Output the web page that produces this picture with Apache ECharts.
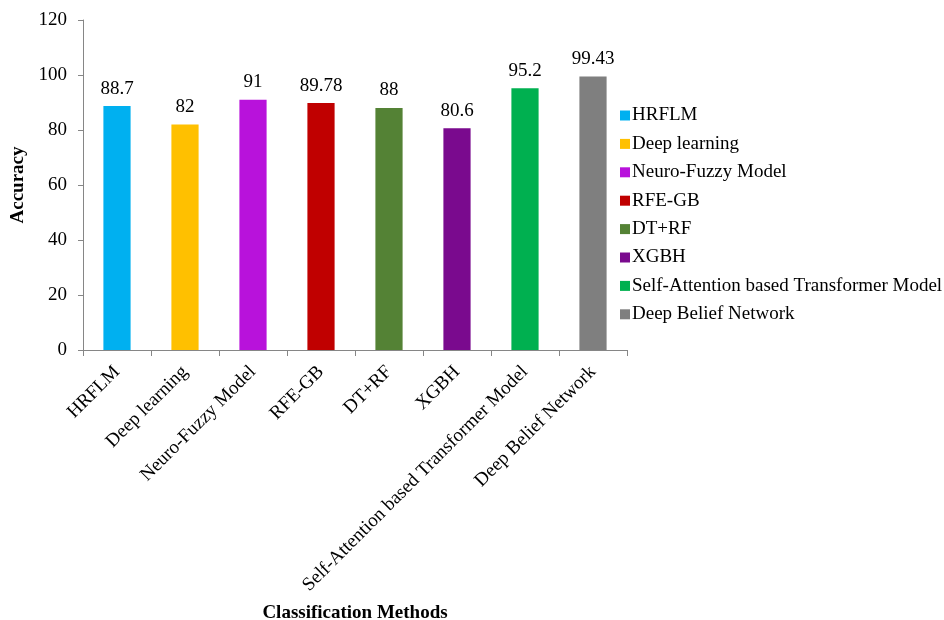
<!DOCTYPE html>
<html>
<head>
<meta charset="utf-8">
<script src="https://cdn.jsdelivr.net/npm/echarts@6/dist/echarts.min.js"></script>
<style>
  html, body { margin: 0; padding: 0; background: #fff; }
  #chart { width: 944px; height: 620px; }
</style>
</head>
<body>
<div id="chart"></div>
<script>
// Classification methods and their accuracy (%)
const methods = ['HRFLM', 'Deep learning', 'Neuro-Fuzzy Model', 'RFE-GB', 'DT+RF', 'XGBH',
  'Self-Attention based Transformer Model', 'Deep Belief Network'];
const accuracy = [88.7, 82, 91, 89.78, 88, 80.6, 95.2, 99.43];
const barColors = ['#00B0F0', '#FFC000', '#B812DB', '#C00000', '#548235', '#7A0A8E', '#00B050', '#7F7F7F'];
const yTicks = { min: 0, max: 120, step: 20 };

const FONT = '"Liberation Serif", "Times New Roman", serif';
const FS = 19;

// One series per method so each gets its own legend entry; stacking keeps bars centred.
const series = methods.map((name, i) => ({
  name: name,
  type: 'bar',
  stack: 'methods',
  barWidth: '40%',
  itemStyle: { color: barColors[i] },
  label: {
    show: true,
    position: 'top',
    distance: 8,
    color: '#000',
    fontFamily: FONT,
    fontSize: FS
  },
  data: methods.map((m, j) => (j === i ? accuracy[i] : '-'))
}));

const chart = echarts.init(document.getElementById('chart'), null, { renderer: 'canvas' });
chart.setOption({
  animation: false,
  backgroundColor: '#fff',
  grid: {
    left: 83, right: 317, top: 20, bottom: 270,
    containLabel: false,
    outerBoundsMode: 'none'
  },
  legend: {
    orient: 'vertical',
    left: 620,
    top: 106,
    padding: 0,
    itemWidth: 10,
    itemHeight: 10,
    itemGap: 9.4,
    icon: 'rect',
    textStyle: { fontFamily: FONT, fontSize: FS, color: '#000', padding: [0, 0, 0, -3] },
    data: methods
  },
  xAxis: {
    type: 'category',
    data: methods,
    name: 'Classification Methods',
    nameLocation: 'middle',
    nameGap: 254,
    nameTextStyle: { fontFamily: FONT, fontSize: FS, fontWeight: 'bold', color: '#000' },
    axisLine: { lineStyle: { color: '#868686', width: 1 } },
    axisTick: { show: true, alignWithLabel: false, length: 6, lineStyle: { color: '#868686' } },
    axisLabel: {
      interval: 0,
      rotate: 45,
      margin: 19,
      fontFamily: FONT,
      fontSize: FS,
      color: '#000'
    }
  },
  yAxis: {
    type: 'value',
    min: yTicks.min,
    max: yTicks.max,
    interval: yTicks.step,
    name: 'Accuracy',
    nameLocation: 'middle',
    nameGap: 52,
    nameTextStyle: { fontFamily: FONT, fontSize: FS, fontWeight: 'bold', color: '#000' },
    axisLine: { show: true, lineStyle: { color: '#868686', width: 1 } },
    axisTick: { show: true, length: 5, lineStyle: { color: '#868686' } },
    splitLine: { show: false },
    axisLabel: { margin: 16, fontFamily: FONT, fontSize: FS, color: '#000' }
  },
  series: series
});
</script>
</body>
</html>
